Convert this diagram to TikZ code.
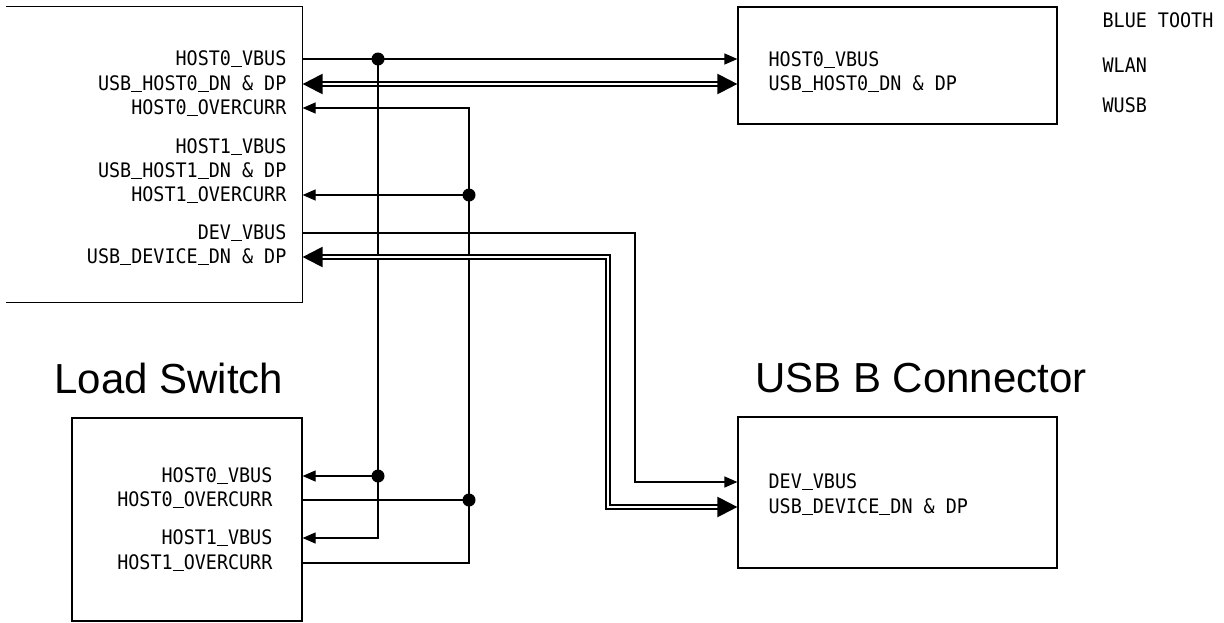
\documentclass[tikz,border=0pt]{standalone}
\usepackage{fontspec}
\setmainfont{Liberation Sans}
\newfontfamily\pinfont[FakeStretch=0.92]{DejaVu Sans Mono}
\newcommand\us{\rule[-1.6pt]{0.554em}{1.3pt}}
\usetikzlibrary{arrows.meta}

\begin{document}
\begin{tikzpicture}[x=1pt, y=-1pt, line width=1.2pt,
    pin/.style={font=\pinfont\fontsize{20}{24}\selectfont, inner sep=0pt},
    pinl/.style={pin, anchor=west},
    pinr/.style={pin, anchor=east},
    box/.style={draw, inner sep=0pt},
    title/.style={font=\fontsize{42}{48}\selectfont},
    sig/.style={-{Triangle[length=13pt,width=11pt]}},
    bus/.style={double, double distance=1.6pt, line width=2.2pt},
    bustip/.style={{Triangle[length=20pt,width=20pt]}-{Triangle[length=20pt,width=20pt]}},
    dot/.style={circle, fill, inner sep=0pt, minimum size=13pt}
  ]
  \useasboundingbox (0,0) rectangle (1224,622);

  % blocks
  \node[inner sep=0pt, minimum width=295pt, minimum height=295pt] (main) at (154.5,154.5) {};
  \draw (main.north west) -- (main.north east) -- (main.south east) -- (main.south west);
  \node[box, minimum width=319pt, minimum height=117pt] (wbox) at (897.5,65.5) {};
  \node[box, minimum width=319pt, minimum height=151pt] (usbb) at (897.5,492.5) {};
  \node[box, minimum width=230pt, minimum height=203pt] (ls) at (187,519.5) {};

  \node[title] (lstitle) at (169,378) {Load Switch};
  \node[title] (usbtitle) at (921,378) {USB B Connector};

  % host side pins
  \node[pinr] (h0vbus) at (287,59) {HOST0\us VBUS};
  \node[pinr] (h0usb) at (287,84) {USB\us HOST0\us DN \& DP};
  \node[pinr] (h0oc) at (287,108) {HOST0\us OVERCURR};
  \node[pinr] (h1vbus) at (287,147) {HOST1\us VBUS};
  \node[pinr] (h1usb) at (287,171) {USB\us HOST1\us DN \& DP};
  \node[pinr] (h1oc) at (287,195) {HOST1\us OVERCURR};
  \node[pinr] (devvbus) at (287,233) {DEV\us VBUS};
  \node[pinr] (devusb) at (287,257) {USB\us DEVICE\us DN \& DP};

  % wireless module
  \node[pinl] (w0vbus) at (768,60) {HOST0\us VBUS};
  \node[pinl] (w0usb) at (768,84) {USB\us HOST0\us DN \& DP};
  \node[pinl] (bt) at (1102,20) {BLUE TOOTH};
  \node[pinl] (wlan) at (1102,65) {WLAN};
  \node[pinl] (wusb) at (1102,105) {WUSB};

  % load switch pins
  \node[pinr] (l0vbus) at (273,476) {HOST0\us VBUS};
  \node[pinr] (l0oc) at (273,500) {HOST0\us OVERCURR};
  \node[pinr] (l1vbus) at (273,538) {HOST1\us VBUS};
  \node[pinr] (l1oc) at (273,563) {HOST1\us OVERCURR};

  % usb b connector pins
  \node[pinl] (cvbus) at (768,482) {DEV\us VBUS};
  \node[pinl] (cusb) at (768,507) {USB\us DEVICE\us DN \& DP};

  % routing columns
  \coordinate (vcol) at (378,0);
  \coordinate (ocol) at (469,0);
  \coordinate (ucol) at (608,0);
  \coordinate (dcol) at (635,0);

  % host 0
  \draw[sig] (h0vbus -| main.east) -- (h0vbus -| wbox.west);
  \draw[bus, bustip] (h0usb -| main.east) -- (h0usb -| wbox.west);

  % vbus to load switch
  \draw[sig] (h0vbus -| vcol) -- (l1vbus -| vcol) -- (l1vbus -| ls.east);
  \draw[sig] (l0vbus -| vcol) -- (l0vbus -| ls.east);

  % overcurrent back to host
  \draw[sig] (l1oc -| ls.east) -- (l1oc -| ocol) -- (h0oc -| ocol) -- (h0oc -| main.east);
  \draw[sig] (h1oc -| ocol) -- (h1oc -| main.east);
  \draw (l0oc -| ls.east) -- (l0oc -| ocol);

  % device port
  \draw[sig] (devvbus -| main.east) -- (devvbus -| dcol) -- (cvbus -| dcol) -- (cvbus -| usbb.west);
  \draw[bus, bustip] (devusb -| main.east) -- (devusb -| ucol) -- (cusb -| ucol) -- (cusb -| usbb.west);

  \node[dot] (j1) at (h0vbus -| vcol) {};
  \node[dot] (j2) at (l0vbus -| vcol) {};
  \node[dot] (j3) at (h1oc -| ocol) {};
  \node[dot] (j4) at (l0oc -| ocol) {};
\end{tikzpicture}
\end{document}
